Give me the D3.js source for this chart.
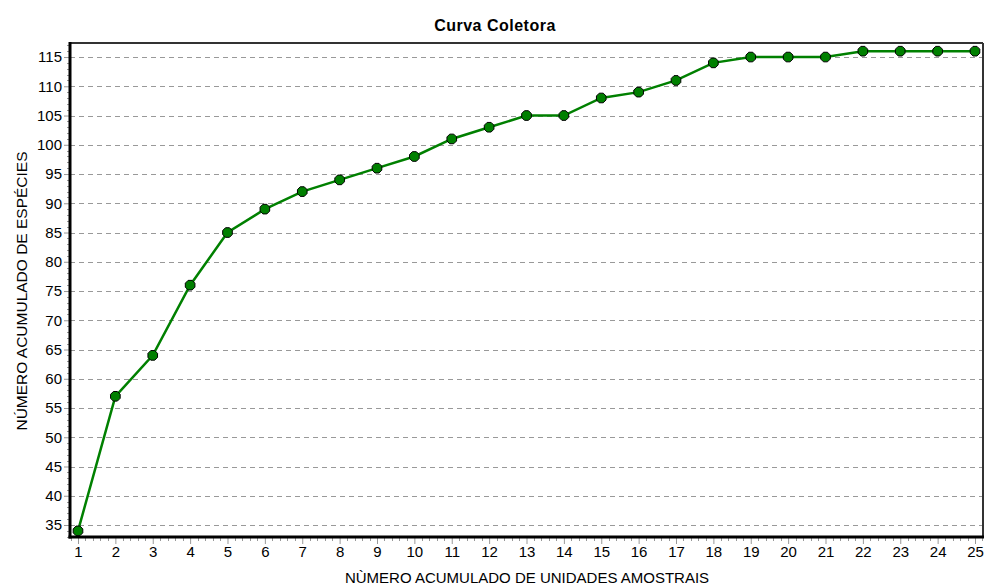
<!DOCTYPE html>
<html><head><meta charset="utf-8">
<script src="https://cdn.jsdelivr.net/npm/d3@7/dist/d3.min.js"></script>
<style>body{margin:0;background:#fff;}svg{display:block;font-family:"Liberation Sans",Arial,sans-serif;}</style>
</head><body>
<script>
const samples = [1,2,3,4,5,6,7,8,9,10,11,12,13,14,15,16,17,18,19,20,21,22,23,24,25];
const species = [34,57,64,76,85,89,92,94,96,98,101,103,105,105,108,109,111,114,115,115,115,116,116,116,116];
const yTicks = [35,40,45,50,55,60,65,70,75,80,85,90,95,100,105,110,115];
const title = "Curva Coletora";
const xLabel = "NÙMERO ACUMULADO DE UNIDADES AMOSTRAIS";
const yLabel = "NÚMERO ACUMULADO DE ESPÉCIES";

const W = 985, H = 585;
const L = 70, R = 983, T = 43, B = 537;
const svg = d3.select("body").append("svg").attr("width", W).attr("height", H);

const x = d3.scaleLinear().domain([0.786, 25.214]).range([L, R]);
const y = d3.scaleLinear().domain([32.95, 117.4]).range([B, T]);

// grid
svg.append("g").selectAll("line").data(yTicks).join("line")
  .attr("x1", L).attr("x2", R).attr("y1", d => Math.round(y(d)) + 0.5).attr("y2", d => Math.round(y(d)) + 0.5)
  .attr("stroke", "#999").attr("stroke-width", 1).attr("stroke-dasharray", "5,4");

// minor ticks y
const yMinor = d3.range(33, 118, 1).filter(v => v % 5 !== 0);
svg.append("g").selectAll("line").data(yMinor).join("line")
  .attr("x1", L - 3).attr("x2", L).attr("y1", d => Math.round(y(d)) + 0.5).attr("y2", d => Math.round(y(d)) + 0.5)
  .attr("stroke", "#999");
// minor ticks x
const xMinor = d3.range(0.8, 25.21, 0.2).filter(v => Math.abs(v - Math.round(v)) > 0.01);
svg.append("g").selectAll("line").data(xMinor).join("line")
  .attr("x1", d => Math.round(x(d)) + 0.5).attr("x2", d => Math.round(x(d)) + 0.5).attr("y1", B).attr("y2", B + 4)
  .attr("stroke", "#999");

// axes
const yAxis = d3.axisLeft(y).tickValues(yTicks).tickSize(6).tickPadding(2);
const gy = svg.append("g").attr("transform", `translate(${L},0)`).call(yAxis);
gy.select(".domain").remove();
gy.selectAll(".tick line").attr("stroke", "#999");
gy.selectAll(".tick text").attr("font-size", 15).attr("fill", "#000").attr("font-family", "Liberation Sans, Arial, sans-serif");

const xAxis = d3.axisBottom(x).tickValues(samples).tickSize(7).tickPadding(2);
const gx = svg.append("g").attr("transform", `translate(0,${B})`).call(xAxis);
gx.select(".domain").remove();
gx.selectAll(".tick line").attr("stroke", "#999");
gx.selectAll(".tick text").attr("font-size", 15).attr("fill", "#000").attr("font-family", "Liberation Sans, Arial, sans-serif");

// frame
svg.append("line").attr("x1", L).attr("x2", R).attr("y1", T).attr("y2", T).attr("stroke", "#333").attr("stroke-width", 2);
svg.append("line").attr("x1", R).attr("x2", R).attr("y1", T).attr("y2", B).attr("stroke", "#333").attr("stroke-width", 2);
svg.append("line").attr("x1", L).attr("x2", L).attr("y1", T - 1).attr("y2", B + 1.5).attr("stroke", "#000").attr("stroke-width", 3);
svg.append("line").attr("x1", L - 1.5).attr("x2", R + 1).attr("y1", B).attr("y2", B).attr("stroke", "#000").attr("stroke-width", 3);

// line
const data = samples.map((s, i) => ({s, v: species[i]}));
svg.append("path").datum(data)
  .attr("fill", "none").attr("stroke", "#008000").attr("stroke-width", 2.5)
  .attr("d", d3.line().x(d => x(d.s)).y(d => y(d.v)));

// markers (octagons)
const oct = d3.range(8).map(k => { const a = Math.PI / 8 + k * Math.PI / 4; return [Math.cos(a) * 5.2, Math.sin(a) * 5.2]; });
svg.append("g").selectAll("path").data(data).join("path")
  .attr("transform", d => `translate(${x(d.s)},${y(d.v)})`)
  .attr("d", "M" + oct.map(p => p.join(",")).join("L") + "Z")
  .attr("fill", "#008000").attr("stroke", "#000").attr("stroke-width", 1);

// labels
svg.append("text").attr("x", 495).attr("y", 31).attr("text-anchor", "middle")
  .attr("font-size", 16).attr("font-weight", "bold").attr("letter-spacing", 0.5).text(title);
svg.append("text").attr("x", 527).attr("y", 583).attr("text-anchor", "middle")
  .attr("font-size", 15).text(xLabel);
svg.append("text").attr("transform", "translate(27,291) rotate(-90)").attr("text-anchor", "middle")
  .attr("font-size", 15.5).text(yLabel);
</script>
</body></html>
